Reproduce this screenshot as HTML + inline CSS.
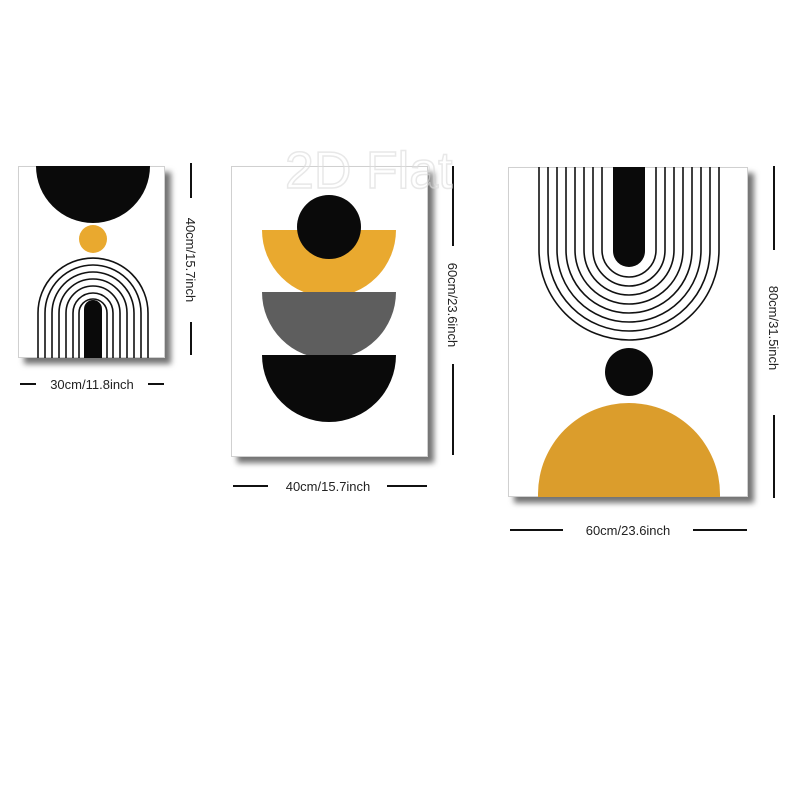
<!DOCTYPE html>
<html><head><meta charset="utf-8"><style>
html,body{margin:0;padding:0;background:#fff;}
svg{display:block;font-family:"Liberation Sans",sans-serif;}
</style></head><body>
<svg width="800" height="800" viewBox="0 0 800 800">
<defs>
<filter id="sh" x="-10%" y="-10%" width="130%" height="130%"><feDropShadow dx="6" dy="6" stdDeviation="3" flood-color="#000" flood-opacity="0.55"/></filter>
<clipPath id="c1"><rect x="18" y="166" width="147" height="192"/></clipPath>
<clipPath id="c3"><rect x="508" y="167" width="240" height="330"/></clipPath>
</defs>

<!-- Panel 1 -->
<g>
<rect x="18" y="166" width="147" height="192" fill="#fff" filter="url(#sh)"/>
<rect x="18.5" y="166.5" width="146" height="191" fill="none" stroke="#d0d0d0" stroke-width="1"/>
<g clip-path="url(#c1)">
<path d="M36,166 A57,57 0 0 0 150,166 Z" fill="#0a0a0a"/>
<circle cx="93" cy="239" r="14" fill="#e9a92f"/>
<g id="arches1" fill="none" stroke="#111" stroke-width="1.6"></g>
<path d="M84,358 V309 A9,9 0 0 1 102,309 V358 Z" fill="#0a0a0a"/>
</g>
</g>
<line x1="191" y1="163" x2="191" y2="198" stroke="#111" stroke-width="2"/>
<line x1="191" y1="322" x2="191" y2="355" stroke="#111" stroke-width="2"/>
<text transform="translate(186,260) rotate(90)" text-anchor="middle" font-size="13" fill="#222">40cm/15.7inch</text>
<line x1="20" y1="384" x2="36" y2="384" stroke="#111" stroke-width="2"/>
<line x1="148" y1="384" x2="164" y2="384" stroke="#111" stroke-width="2"/>
<text x="92" y="389" text-anchor="middle" font-size="13" fill="#222">30cm/11.8inch</text>

<!-- Panel 2 -->
<g>
<rect x="231" y="166" width="197" height="291" fill="#fff" filter="url(#sh)"/>
<rect x="231.5" y="166.5" width="196" height="290" fill="none" stroke="#d0d0d0" stroke-width="1"/>
<path d="M262,230 A67,67 0 0 0 396,230 Z" fill="#e9a92f"/>
<path d="M262,292 A67,67 0 0 0 396,292 Z" fill="#5e5e5e"/>
<path d="M262,355 A67,67 0 0 0 396,355 Z" fill="#0a0a0a"/>
<circle cx="329" cy="227" r="32" fill="#0a0a0a"/>
</g>
<line x1="453" y1="166" x2="453" y2="246" stroke="#111" stroke-width="2"/>
<line x1="453" y1="364" x2="453" y2="455" stroke="#111" stroke-width="2"/>
<text transform="translate(448,305) rotate(90)" text-anchor="middle" font-size="13" fill="#222">60cm/23.6inch</text>
<line x1="233" y1="486" x2="268" y2="486" stroke="#111" stroke-width="2"/>
<line x1="387" y1="486" x2="427" y2="486" stroke="#111" stroke-width="2"/>
<text x="328" y="491" text-anchor="middle" font-size="13" fill="#222">40cm/15.7inch</text>

<!-- Panel 3 -->
<g>
<rect x="508" y="167" width="240" height="330" fill="#fff" filter="url(#sh)"/>
<rect x="508.5" y="167.5" width="239" height="329" fill="none" stroke="#d0d0d0" stroke-width="1"/>
<g clip-path="url(#c3)">
<g id="arches3" fill="none" stroke="#111" stroke-width="1.6"></g>
<path d="M613,167 V251 A16,16 0 0 0 645,251 V167 Z" fill="#0a0a0a"/>
<circle cx="629" cy="372" r="24" fill="#0a0a0a"/>
<path d="M538,497 V494 A91,91 0 0 1 720,494 V497 Z" fill="#db9d2c"/>
</g>
</g>
<line x1="774" y1="166" x2="774" y2="250" stroke="#111" stroke-width="2"/>
<line x1="774" y1="415" x2="774" y2="498" stroke="#111" stroke-width="2"/>
<text transform="translate(769,328) rotate(90)" text-anchor="middle" font-size="13" fill="#222">80cm/31.5inch</text>
<line x1="510" y1="530" x2="563" y2="530" stroke="#111" stroke-width="2"/>
<line x1="693" y1="530" x2="747" y2="530" stroke="#111" stroke-width="2"/>
<text x="628" y="535" text-anchor="middle" font-size="13" fill="#222">60cm/23.6inch</text>
<text x="285" y="188" font-size="52" fill="#ffffff" fill-opacity="0.2" stroke="#d8d8d8" stroke-opacity="0.6" stroke-width="1.5">2D Flat</text>
</svg>
<script>
const radii1=[55,48,41,34,27,20,14];
const radii3=[90,81,72,63,54,45,36,27];
const ns="http://www.w3.org/2000/svg";
const g1=document.getElementById('arches1');
radii1.forEach(r=>{const p=document.createElementNS(ns,'path');
p.setAttribute('d',`M${93-r},360 V313 A${r},${r} 0 0 1 ${93+r},313 V360`);


g1.appendChild(p);});
const g3=document.getElementById('arches3');
radii3.forEach(r=>{const p=document.createElementNS(ns,'path');
p.setAttribute('d',`M${629-r},165 V250 A${r},${r} 0 0 0 ${629+r},250 V165`);


g3.appendChild(p);});
</script>
</body></html>
